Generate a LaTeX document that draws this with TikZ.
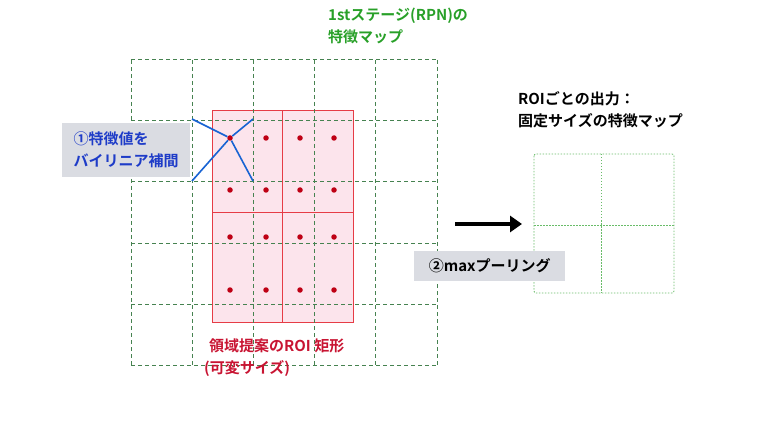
\documentclass[tikz,border=0pt]{standalone}
\usepackage{fontspec}
\usetikzlibrary{arrows.meta}
\setmainfont{Noto Sans CJK JP}[BoldFont={Noto Sans CJK JP Bold}]
\definecolor{gridgreen}{RGB}{70,130,80}
\definecolor{roired}{RGB}{230,60,70}
\definecolor{roifill}{RGB}{252,228,236}
\definecolor{dotred}{RGB}{190,0,20}
\definecolor{txtgreen}{RGB}{40,160,40}
\definecolor{txtblue}{RGB}{30,60,200}
\definecolor{txtred}{RGB}{200,20,50}
\definecolor{boxgray}{RGB}{218,220,226}
\begin{document}
\begin{tikzpicture}[x=1pt,y=-1pt,>=latex,
  fmgrid/.style={gridgreen,dash pattern=on 4pt off 3pt,line width=1pt},
  outgrid/.style={txtgreen!70,dash pattern=on 1.5pt off 1.5pt,line width=0.8pt},
  roidot/.style={circle,fill=dotred,inner sep=0pt,minimum size=5.5pt},
  lbl/.style={font=\bfseries\fontsize{15}{22}\selectfont,align=left,inner sep=3pt},
  graybox/.style={lbl,fill=boxgray}]
\useasboundingbox (0,0) rectangle (778,438);
%% ROI rectangle
\fill[roifill] (212,111) rectangle (353,322);
\draw[roired,line width=1pt] (212,111) rectangle (353,322) (282,111) -- (282,322) (212,213) -- (353,213);
%% feature map grid
\foreach \i in {0,...,5} {
  \draw[fmgrid] (131+61.2*\i,60) -- (131+61.2*\i,365);
  \draw[fmgrid] (131,60+61*\i) -- (437,60+61*\i);
}
%% sample points
\foreach \x [count=\c] in {230,266,300,334}
  \foreach \y [count=\r] in {138,190,237,290}
    \node[roidot] (d\c\r) at (\x,\y) {};
\coordinate (c1) at (192,119);
\coordinate (c2) at (253,119);
\coordinate (c3) at (192,181);
\coordinate (c4) at (253,181);
\foreach \k in {1,...,4} \draw[txtblue!80!cyan,line width=1.6pt] (d11) -- (c\k);
%% output grid
\draw[outgrid,rounded corners=2pt] (534,154) rectangle (674,293);
\draw[outgrid] (601,154) -- (601,293) (534,225) -- (674,225);
%% arrow
\coordinate (a1) at (455,224);
\coordinate (a2) at (522,224);
\draw[line width=4pt,-{Triangle[length=12pt,width=16pt]}] (a1) -- (a2);
%% labels
\node[lbl,text=txtgreen,anchor=north west] (fmlabel) at (325,5) {1stステージ(RPN)の\\特徴マップ};
\node[graybox,text=txtblue,anchor=north west,minimum height=54pt,minimum width=128pt] (bilin) at (62,123) {①特徴値を\\バイリニア補間};
\node[graybox,anchor=north west,minimum width=151pt,minimum height=30pt] (pool) at (414,251) {②maxプーリング};
\node[lbl,anchor=north west] (outlabel) at (515,88) {ROIごとの出力：\\固定サイズの特徴マップ};
\node[lbl,text=txtred,anchor=north west] (roilabel) at (201,336) {\hspace{5pt}領域提案のROI 矩形\\(可変サイズ)};
\end{tikzpicture}
\end{document}
